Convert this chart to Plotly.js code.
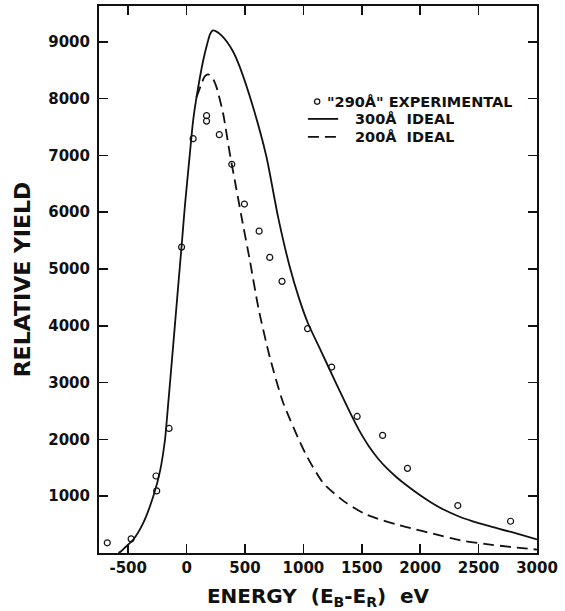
<!DOCTYPE html>
<html>
<head>
<meta charset="utf-8">
<script src="https://cdn.plot.ly/plotly-3.0.1.min.js"></script>
<style>html,body{margin:0;padding:0;background:#fff;}#chart{width:565px;height:611px;}</style>
</head>
<body>
<div id="chart"></div>
<script>
// Experimental "290Å" points
const expX = [-679, -475, -262, -256, -150, -43, 56, 171, 171, 280, 387, 495, 621, 712, 817, 1036, 1242, 1460, 1678, 1891, 2322, 2774];
const expY = [180, 249, 1356, 1093, 2193, 5385, 7295, 7700, 7604, 7365, 6843, 6143, 5666, 5204, 4782, 3950, 3274, 2404, 2070, 1490, 835, 559];

// 300Å ideal (solid)
const idealX300 = [-583, -560, -520, -456, -371, -285, -228, -185, -162, -115, -72, -43, -15, 28, 56, 85, 142, 180, 200, 222, 260, 300, 342, 400, 456, 569, 684, 783, 883, 960, 1039, 1150, 1277, 1400, 1480, 1560, 1640, 1720, 1800, 1894, 2000, 2100, 2200, 2327, 2500, 2778, 3000];
const idealY300 = [0, 30, 110, 237, 530, 998, 1437, 1994, 2521, 3650, 4700, 5400, 6100, 7032, 7617, 8026, 8671, 8990, 9130, 9198, 9175, 9110, 9010, 8820, 8553, 7850, 6972, 5918, 5039, 4500, 4045, 3560, 3000, 2470, 2150, 1880, 1660, 1480, 1330, 1174, 1015, 880, 765, 647, 525, 370, 240];

// 200Å ideal (dashed)
const idealX200 = [85, 128, 155, 185, 220, 256, 313, 370, 427, 470, 541, 616, 712, 826, 1015, 1169, 1354, 1524, 1640, 1800, 1951, 2091, 2350, 2552, 2800, 3000];
const idealY200 = [8026, 8261, 8390, 8425, 8370, 8202, 7734, 7032, 6400, 5920, 5157, 4300, 3450, 2650, 1760, 1233, 900, 690, 600, 500, 420, 350, 220, 160, 100, 60];

const xTicks = [-500, 0, 500, 1000, 1500, 2000, 2500, 3000];
const yTicks = [1000, 2000, 3000, 4000, 5000, 6000, 7000, 8000, 9000];

const legendLabels = ['"290Å" EXPERIMENTAL', '300Å  IDEAL', '200Å  IDEAL'];

const FONT = '"DejaVu Sans", Verdana, sans-serif';
const INK = '#111';

const traces = [
  {x: expX, y: expY, mode: 'markers', name: legendLabels[0],
   marker: {symbol: 'circle-open', size: 6, color: INK, line: {width: 1.2, color: INK}}},
  {x: idealX300, y: idealY300, mode: 'lines', name: legendLabels[1], line: {color: INK, width: 1.8, shape: 'spline', smoothing: 0.6}},
  {x: idealX200, y: idealY200, mode: 'lines', name: legendLabels[2], line: {color: INK, width: 1.8, dash: '11px,6px', shape: 'spline', smoothing: 0.6}}
];

const axisCommon = {
  showline: true, linecolor: INK, linewidth: 2, mirror: 'ticks',
  ticks: 'inside', ticklen: 9, tickwidth: 1.6, tickcolor: INK,
  showgrid: false, zeroline: false,
  tickfont: {family: FONT, size: 15, color: INK, weight: 'bold'}
};

// hand-placed key (legend) in paper coordinates
const legFont = {family: FONT, size: 14.5, color: INK, weight: 'bold'};
const legY = [0.8252, 0.7936, 0.7607];
const annotations = [
  {xref: 'paper', yref: 'paper', x: 0.516, y: legY[0], xanchor: 'left', yanchor: 'middle', showarrow: false, height: 16, text: legendLabels[0], font: legFont},
  {xref: 'paper', yref: 'paper', x: 0.580, y: legY[1], xanchor: 'left', yanchor: 'middle', showarrow: false, height: 16, text: legendLabels[1], font: legFont},
  {xref: 'paper', yref: 'paper', x: 0.580, y: legY[2], xanchor: 'left', yanchor: 'middle', showarrow: false, height: 16, text: legendLabels[2], font: legFont}
];
const shapes = [
  {type: 'circle', xref: 'paper', yref: 'paper', xsizemode: 'pixel', ysizemode: 'pixel',
   xanchor: 0.498, yanchor: legY[0], x0: -2.7, x1: 2.7, y0: -2.7, y1: 2.7, line: {color: INK, width: 1.2}},
  {type: 'line', xref: 'paper', yref: 'paper', x0: 0.477, x1: 0.546, y0: legY[1], y1: legY[1], line: {color: INK, width: 1.8}},
  {type: 'line', xref: 'paper', yref: 'paper', x0: 0.477, x1: 0.546, y0: legY[2], y1: legY[2], line: {color: INK, width: 1.8, dash: '11px,6px'}}
];

const layout = {
  width: 565, height: 611,
  margin: {l: 99, r: 28, t: 6, b: 58},
  paper_bgcolor: '#fff', plot_bgcolor: '#fff',
  showlegend: false,
  annotations: annotations,
  shapes: shapes,
  xaxis: Object.assign({}, axisCommon, {
    range: [-750, 3000], tickvals: xTicks, ticktext: xTicks.map(String),
    title: {text: 'ENERGY  (E<sub>B</sub>-E<sub>R</sub>)  eV', font: {family: FONT, size: 20, color: INK, weight: 'bold'}, standoff: 13}
  }),
  yaxis: Object.assign({}, axisCommon, {
    range: [0, 9630], tickvals: yTicks, ticktext: yTicks.map(String),
    ticklabelstandoff: 4,
    title: {text: 'RELATIVE YIELD', font: {family: FONT, size: 22, color: INK, weight: 'bold'}, standoff: 12}
  })
};

Plotly.newPlot('chart', traces, layout, {displayModeBar: false, staticPlot: true});
</script>
</body>
</html>
